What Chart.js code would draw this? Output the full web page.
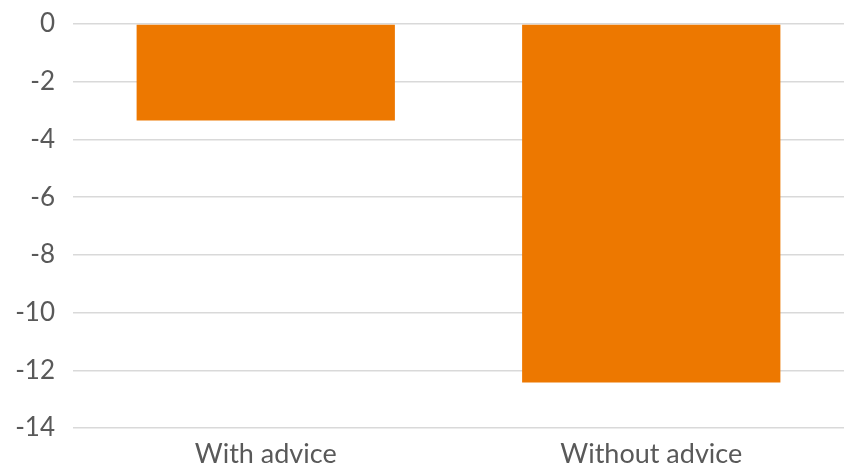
<!doctype html>
<html lang="en">
<head>
<meta charset="utf-8">
<title>Advice</title>
<script src="https://cdn.jsdelivr.net/npm/chart.js@4"></script>
<style>
  html, body { margin: 0; padding: 0; background: #fff; }
  #wrap { width: 848px; height: 464px; }
</style>
</head>
<body>
<div id="wrap"><canvas id="barChart" width="848" height="464"></canvas></div>
<script>
// categories and values
var labels = ["With advice", "Without advice"];
var values = [-3.34, -12.42];
var yTicks = [0, -2, -4, -6, -8, -10, -12, -14];

var chartEl = document.getElementById("barChart");
new Chart(chartEl, {
  type: "bar",
  data: {
    labels: labels,
    datasets: [{
      data: values,
      backgroundColor: "#ED7800",
      borderWidth: 0,
      categoryPercentage: 1,
      barPercentage: 0.67
    }]
  },
  options: {
    responsive: false,
    animation: false,
    layout: { padding: { top: 24, right: 4, bottom: 0, left: 0 } },
    plugins: { legend: { display: false }, tooltip: { enabled: false } },
    scales: {
      x: {
        afterFit: function (s) { s.height = 36; },
        grid: { display: false },
        border: { display: false },
        ticks: { color: "#595959", font: { family: "Lato", size: 27 }, padding: 2 }
      },
      y: {
        min: -14,
        max: 0,
        afterFit: function (s) { s.width = 73; s.paddingTop = 0; s.paddingBottom = 0; },
        afterBuildTicks: function (s) { s.ticks = yTicks.map(function (v) { return { value: v }; }); },
        grid: { color: "#d9d9d9", lineWidth: 1.5, drawTicks: false },
        border: { display: false },
        ticks: { color: "#595959", font: { family: "Lato", size: 26 }, padding: 18 }
      }
    }
  }
});
</script>
</body>
</html>
